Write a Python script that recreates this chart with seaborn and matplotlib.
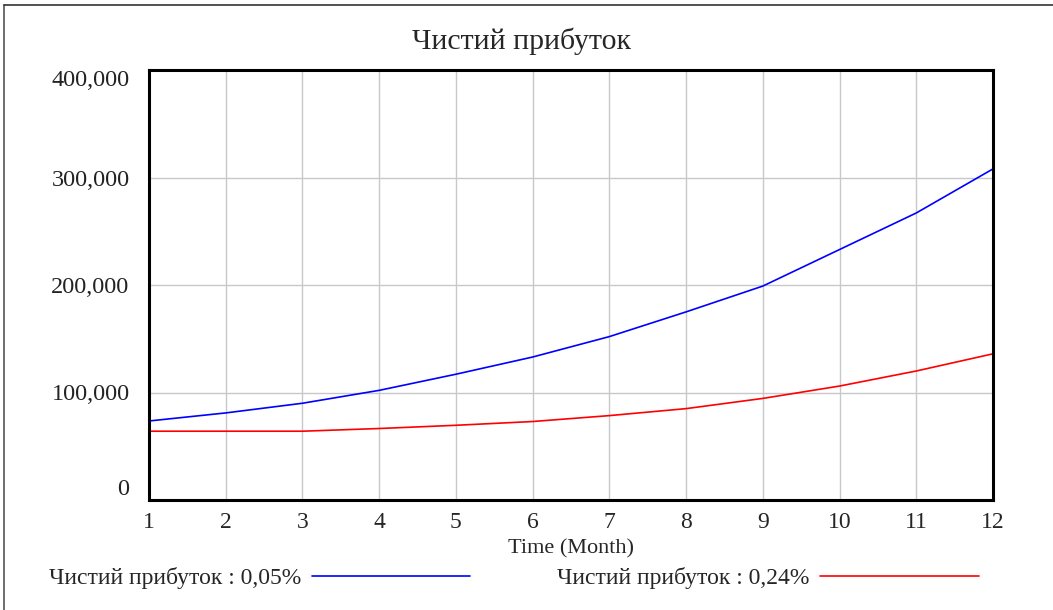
import numpy as np
import matplotlib.pyplot as plt
import seaborn as sns
import pandas as pd
from matplotlib.ticker import FuncFormatter

months = list(range(1, 13))
profit_005 = [73500, 81000, 90000, 102000, 117000, 133000, 152000, 175000, 199000, 233000, 267000, 308000]
profit_024 = [64000, 64000, 64000, 66500, 69500, 73000, 78500, 85000, 94500, 106000, 120000, 136000]
series_names = ['Чистий прибуток : 0,05%', 'Чистий прибуток : 0,24%']

df = pd.DataFrame({
    'month': months * 2,
    'value': profit_005 + profit_024,
    'series': [series_names[0]] * 12 + [series_names[1]] * 12,
})

sns.set_style('white')
plt.rcParams['font.family'] = ['Liberation Serif', 'DejaVu Serif']

fig = plt.figure(figsize=(10.53, 6.10), dpi=100)
ax = fig.add_axes([149 / 1053, 1 - 500 / 610, (993 - 149) / 1053, (500 - 70) / 610])

sns.lineplot(data=df, x='month', y='value', hue='series', ax=ax,
             palette=['#0000ff', '#ff0000'], linewidth=1.2, legend=False)

ax.set_xlim(1, 12)
ax.set_ylim(0, 400000)
ax.set_xticks(months)
ax.set_yticks([0, 100000, 200000, 300000, 400000])
ax.yaxis.set_major_formatter(FuncFormatter(lambda v, p: f'{int(v):,}'))
ax.grid(True, color='#c8c8c8', linewidth=1)
ax.tick_params(axis='both', length=0, labelsize=17)
ax.tick_params(axis='y', pad=14, labelsize=17.5)
ax.tick_params(axis='x', pad=9)
for lbl in ax.get_yticklabels():
    lbl.set_color('#222222')
ylbls = ax.get_yticklabels()
ylbls[0].set_va('bottom')
ylbls[-1].set_va('top')
for s in ax.spines.values():
    s.set_color('black')
    s.set_linewidth(2.2)

ax.set_xlabel('Time (Month)', fontsize=16, labelpad=4)
ax.set_ylabel('')
fig.text(0.495, 1 - 41 / 610, 'Чистий прибуток', ha='center', va='center', fontsize=21.5)

handles = ax.get_lines()[:2]
fig.legend(handles, series_names, loc='center', bbox_to_anchor=(0.488, 1 - 578 / 610),
           ncol=2, markerfirst=False, frameon=False, fontsize=17,
           handlelength=6.7, handletextpad=0.45, columnspacing=3.7)

# outer frame (top and left)
fig.add_artist(plt.Line2D([4 / 1053, 4 / 1053], [0, 1 - 5 / 610], color='#555555', lw=1.2,
                          transform=fig.transFigure))
fig.add_artist(plt.Line2D([4 / 1053, 1], [1 - 5 / 610, 1 - 5 / 610], color='#333333', lw=1.2,
                          transform=fig.transFigure))

fig.savefig('out.png', dpi=100)
